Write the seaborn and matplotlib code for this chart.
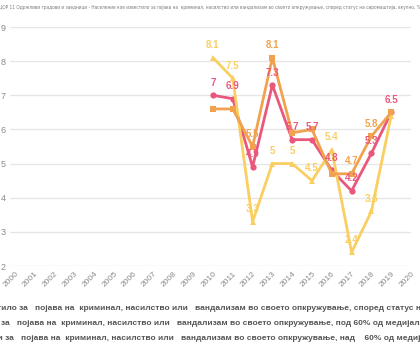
import matplotlib
matplotlib.use("Agg")
import matplotlib.pyplot as plt
import seaborn as sns
import pandas as pd

years = list(range(2010, 2020))
total = [7.0, 6.9, 4.9, 7.3, 5.7, 5.7, 4.8, 4.2, 5.3, 6.5]
below60 = [8.1, 7.5, 3.3, 5.0, 5.0, 4.5, 5.4, 2.4, 3.6, 6.4]
above60 = [6.6, 6.6, 5.5, 8.1, 5.9, 6.0, 4.7, 4.7, 5.8, 6.5]

series_names = [
    "Население кое известило за   појава на  криминал, насилство или   вандализам во своето опкружување, според статус на сиромаштија, вкупно",
    "Сиромашни граѓани - за   појава на  криминал, насилство или   вандализам во своето опкружување, под 60% од медијалниот еквивалентен доход",
    "Несиромашни граѓани за   појава на  криминал, насилство или   вандализам во своето опкружување, над    60% од медијалниот еквивалентен доход",
]
title = ("ЦОР 11 Одржливи градови и заедници - Население кое известило за појава на  криминал, "
         "насилство или вандализам во своето опкружување, според статус на сиромаштија, вкупно, %")
xticks = list(range(2000, 2021))
yticks = list(range(2, 10))

# which value labels are shown (others hidden by overlap in the original)
show_labels = {
    series_names[0]: [True] * 10,
    series_names[1]: [True, True, True, True, True, True, True, True, True, False],
    series_names[2]: [False, False, True, True, False, False, False, True, True, False],
}

df = pd.concat([
    pd.DataFrame({"year": years, "value": total, "series": series_names[0]}),
    pd.DataFrame({"year": years, "value": below60, "series": series_names[1]}),
    pd.DataFrame({"year": years, "value": above60, "series": series_names[2]}),
])

colors = {series_names[0]: "#e9587c", series_names[1]: "#f9cf62", series_names[2]: "#f0a24e"}
markers = {series_names[0]: "o", series_names[1]: "^", series_names[2]: "s"}

sns.set_theme(style="white")
plt.rcParams["font.family"] = ["Liberation Sans", "DejaVu Sans"]

fig = plt.figure(figsize=(4.2, 3.5), dpi=100)
ax = fig.add_axes([10 / 420, 84 / 350, 401 / 420, 239 / 350])

sns.lineplot(data=df, x="year", y="value", hue="series", style="series",
             hue_order=series_names, style_order=series_names,
             palette=colors, markers=markers, dashes=False, linewidth=2,
             markersize=4.5, markeredgewidth=0, ax=ax, legend=True)

for name, vals in [(series_names[1], below60), (series_names[2], above60), (series_names[0], total)]:
    for x, v, s in zip(years, vals, show_labels[name]):
        if s:
            ax.annotate(f"{v:g}", (x, v), xytext=(0, 9), textcoords="offset points",
                        ha="center", va="center", fontsize=7, fontweight="bold",
                        color=colors[name])

ax.set_xlim(1999.75, 2020.0)
ax.set_ylim(2, 9)
ax.set_xticks(xticks)
ax.set_xticklabels([str(x) for x in xticks], rotation=45, ha="right",
                   rotation_mode="anchor", fontsize=6, color="#8a8a8a")
ax.set_yticks(yticks)
ax.set_yticklabels([str(y) for y in yticks], fontsize=6.5, color="#8a8a8a")
ax.tick_params(axis="both", length=0, pad=3)
ax.set_xlabel("")
ax.set_ylabel("")
ax.grid(axis="y", color="#e6e6e6", linewidth=1)
ax.grid(axis="x", visible=False)
for sp in ax.spines.values():
    sp.set_visible(False)

handles, labels = ax.get_legend_handles_labels()
ax.get_legend().remove()
fig.legend(handles, labels, loc="upper left", bbox_to_anchor=(-0.271, 1 - 297 / 350),
           ncol=1, frameon=False, handlelength=1.0, labelspacing=0.85,
           prop={"family": "Liberation Sans", "weight": "bold", "size": 6.0},
           labelcolor="#555555")

# title: fit to figure width
t = fig.text(0.5, 1 - 8 / 350, title, ha="center", va="center", fontsize=6,
             color="#7a7a7a", family=["DejaVu Sans"], fontstretch="condensed")
r = fig.canvas.get_renderer()
w = t.get_window_extent(renderer=r).width
t.set_fontsize(6 * 416 / w)

fig.savefig("out.png", dpi=100)
